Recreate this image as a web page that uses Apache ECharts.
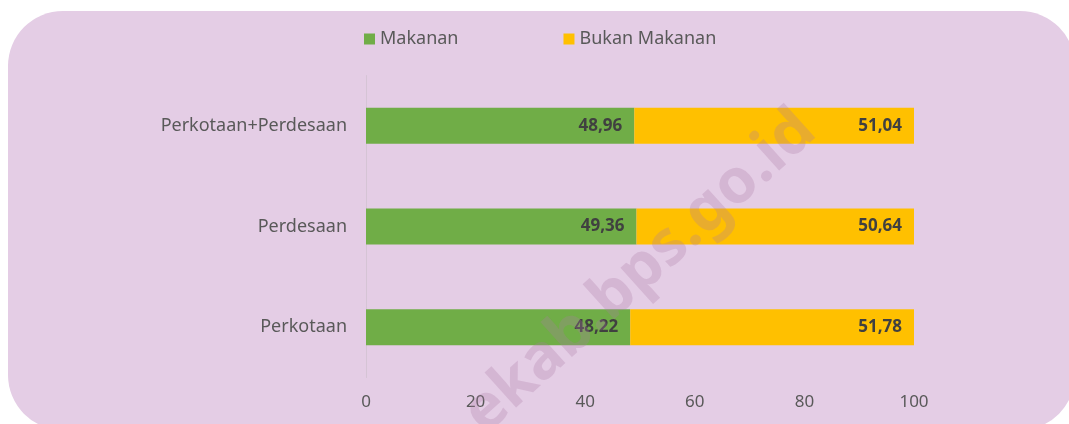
<!DOCTYPE html>
<html>
<head>
<meta charset="utf-8">
<style>
  html, body { margin: 0; padding: 0; background: #ffffff; }
  #main { width: 1069px; height: 424px; }
</style>
<script src="https://cdn.jsdelivr.net/npm/echarts@6/dist/echarts.min.js"></script>
</head>
<body>
<div id="main"></div>
<script type="text/javascript">
// data, bottom to top as drawn
var categories = ['Perkotaan', 'Perdesaan', 'Perkotaan+Perdesaan'];
var makanan = [48.22, 49.36, 48.96];
var bukanMakanan = [51.78, 50.64, 51.04];
var seriesNames = ['Makanan', 'Bukan Makanan'];

var textColor = '#595959';
var fontName = '"Noto Sans", sans-serif';

function commaLabel(p) {
    return p.value.toFixed(2).replace('.', ',');
}

var myChart = echarts.init(document.getElementById('main'));

var option = {
    backgroundColor: 'transparent',
    textStyle: { fontFamily: fontName },
    graphic: [
        {
            type: 'rect',
            z: -10,
            shape: { x: 8, y: 11, width: 1067, height: 419, r: 55 },
            style: { fill: '#e4cde5' }
        },
        {
            // watermark
            type: 'text',
            z: 100,
            x: 640,
            y: 272,
            rotation: 42 * Math.PI / 180,
            style: {
                text: 'ekab.bps.go.id',
                font: 'bold 62px "Noto Sans", sans-serif',
                fill: 'rgba(171,121,165,0.28)',
                textAlign: 'center',
                textVerticalAlign: 'middle'
            }
        }
    ],
    legend: {
        data: seriesNames,
        left: 359,
        top: 25,
        icon: 'rect',
        itemWidth: 11,
        itemHeight: 11,
        itemGap: 105,
        textStyle: { color: textColor, fontSize: 18, fontFamily: fontName }
    },
    grid: {
        left: 366,
        right: 155,
        top: 75.5,
        bottom: 46.5
    },
    xAxis: {
        type: 'value',
        min: 0,
        max: 100,
        interval: 20,
        axisLine: { show: false },
        axisTick: { show: false },
        splitLine: { show: false },
        axisLabel: { color: textColor, fontSize: 17, margin: 16 }
    },
    yAxis: {
        type: 'category',
        data: categories,
        axisLine: { show: true, lineStyle: { color: '#d5c4d5', width: 1 } },
        axisTick: { show: false },
        axisLabel: { color: textColor, fontSize: 18, margin: 19 }
    },
    series: [
        {
            name: seriesNames[0],
            type: 'bar',
            stack: 'total',
            barWidth: 36,
            data: makanan,
            itemStyle: { color: '#70ad47' },
            label: {
                show: true,
                position: 'insideRight',
                distance: 12,
                color: '#404040',
                fontWeight: 'bold',
                fontSize: 17,
                formatter: commaLabel
            }
        },
        {
            name: seriesNames[1],
            type: 'bar',
            stack: 'total',
            barWidth: 36,
            data: bukanMakanan,
            itemStyle: { color: '#ffc000' },
            label: {
                show: true,
                position: 'insideRight',
                distance: 12,
                color: '#404040',
                fontWeight: 'bold',
                fontSize: 17,
                formatter: commaLabel
            }
        }
    ]
};

myChart.setOption(option);
</script>
</body>
</html>
